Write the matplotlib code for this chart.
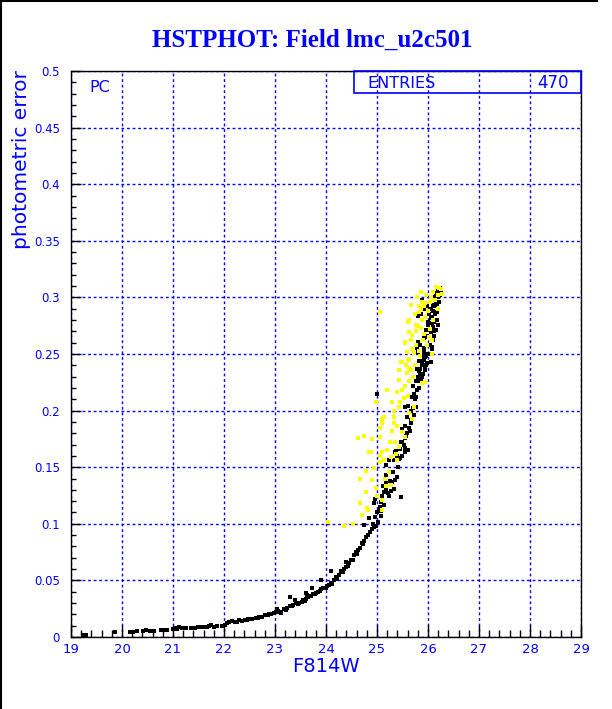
import matplotlib
matplotlib.use("Agg")
import matplotlib.pyplot as plt
from matplotlib.ticker import MultipleLocator, FixedLocator
from matplotlib.lines import Line2D
from matplotlib.patches import Rectangle

BLUE = (0, 0, 1)

title = "HSTPHOT: Field lmc_u2c501"
x_label = "F814W"
y_label = "photometric error"
x_ticks = [19, 20, 21, 22, 23, 24, 25, 26, 27, 28, 29]
y_ticks = [0, 0.05, 0.1, 0.15, 0.2, 0.25, 0.3, 0.35, 0.4, 0.45, 0.5]
y_tick_labels = ["0", "0.05", "0.1", "0.15", "0.2", "0.25", "0.3", "0.35", "0.4", "0.45", "0.5"]
stat_name = "ENTRIES"
stat_value = "470"
panel_label = "PC"

black_x = [19.25, 19.30, 19.86, 20.15, 20.22, 20.30, 20.42, 20.48, 20.55, 20.62, 20.76, 20.82, 20.88,
           21.00, 21.06, 21.12, 21.18, 21.25, 21.43, 21.50, 21.56, 21.62, 21.70, 21.74, 21.80, 21.97,
           22.02, 22.10, 22.15, 22.22, 22.30, 22.36, 22.42, 22.48, 22.55, 22.62, 22.68, 22.74, 22.80,
           22.86, 22.92, 22.98, 23.02, 23.03, 23.05, 23.10, 23.18, 23.24, 23.30, 23.36, 23.42, 23.48,
           23.52, 23.29, 23.55, 23.60, 23.65, 23.70, 23.75, 23.80, 23.85, 23.60, 23.72, 23.40, 23.62,
           23.91, 23.95, 24.00, 23.91, 24.05, 24.10, 24.15, 24.20, 24.09, 24.25, 24.30, 24.35, 24.40,
           24.40, 24.46, 24.50, 24.55, 24.58, 24.62, 24.66, 24.70, 24.74, 24.78, 24.75, 24.86, 24.90,
           24.94, 24.85, 24.97, 25.00, 25.04, 25.08, 24.95, 24.97, 25.05, 25.08, 25.10, 25.10, 25.14,
           25.17, 25.11, 25.18, 25.18, 25.18, 25.24, 25.28, 25.33, 25.30, 25.35, 25.40, 25.48, 25.34,
           25.44, 25.50, 25.54, 25.38, 25.45, 25.55, 25.60, 25.24,
           25.50, 25.55, 25.58, 25.50, 25.62, 25.67, 25.58, 25.54, 25.67, 25.70, 25.76, 25.00, 25.68,
           25.72, 25.78, 25.70, 25.82, 25.76, 25.80, 25.82, 25.78, 25.90, 25.95, 25.88, 25.82, 25.92,
           25.95, 25.97, 25.87, 25.80, 25.78, 25.93, 25.85, 25.80, 25.93, 25.98, 25.97, 26.06, 26.12,
           26.16, 26.00, 26.08, 26.12, 25.80, 25.86, 26.08, 26.14, 26.18, 25.99, 26.06, 26.10, 26.15,
           25.89, 26.16, 26.20, 26.24, 26.20, 26.12, 26.22,
           25.99, 26.03, 26.07, 25.90, 25.97, 26.00, 26.05, 25.94, 25.85, 25.89, 25.80, 25.77, 25.60,
           25.58, 25.54, 25.48, 25.40, 25.36, 26.10, 26.02, 25.93, 26.18, 26.22,
           26.14, 26.18, 26.20, 26.24, 26.26, 26.10, 26.13, 26.16, 26.19, 26.05, 26.09, 26.12, 26.03,
           26.07, 26.00, 25.96, 25.92, 25.88, 25.85, 25.83, 25.86, 25.74, 25.72, 25.66, 25.64, 25.57,
           25.52, 25.46, 25.42, 25.31, 25.26, 25.21, 25.14, 25.07, 25.02, 24.98, 24.92, 24.82, 24.72,
           24.60, 24.52, 24.44, 24.33, 24.22, 24.12, 24.02, 23.88, 23.78, 23.68, 23.58, 23.46, 23.34,
           23.22, 23.12, 22.88, 22.66, 22.46, 22.26, 22.06, 21.86, 21.66, 21.36, 21.08]
black_y = [0.002, 0.002, 0.004, 0.004, 0.004, 0.005, 0.005, 0.006, 0.005, 0.005, 0.006, 0.006, 0.006,
           0.007, 0.008, 0.009, 0.008, 0.008, 0.008, 0.009, 0.009, 0.009, 0.010, 0.011, 0.009, 0.010,
           0.011, 0.013, 0.014, 0.013, 0.015, 0.014, 0.015, 0.016, 0.016, 0.017, 0.018, 0.018, 0.019,
           0.019, 0.020, 0.021, 0.022, 0.025, 0.023, 0.022, 0.025, 0.026, 0.027, 0.028, 0.030, 0.030,
           0.031, 0.035, 0.033, 0.034, 0.035, 0.036, 0.038, 0.039, 0.040, 0.039, 0.043, 0.033, 0.037,
           0.042, 0.043, 0.043, 0.050, 0.046, 0.048, 0.050, 0.053, 0.058, 0.055, 0.058, 0.060, 0.062,
           0.066, 0.065, 0.068, 0.072, 0.075, 0.077, 0.079, 0.083, 0.085, 0.088, 0.099, 0.093, 0.095,
           0.097, 0.105, 0.106, 0.110, 0.112, 0.111, 0.118, 0.122, 0.115, 0.119, 0.121, 0.125, 0.128,
           0.130, 0.133, 0.136, 0.143, 0.152, 0.125, 0.129, 0.131, 0.137, 0.139, 0.141, 0.124, 0.156,
           0.157, 0.160, 0.163, 0.164, 0.166, 0.167, 0.165, 0.156,
           0.172, 0.176, 0.180, 0.184, 0.185, 0.189, 0.194, 0.203, 0.200, 0.202, 0.203, 0.215, 0.212,
           0.215, 0.218, 0.222, 0.220, 0.226, 0.230, 0.235, 0.237, 0.232, 0.236, 0.240, 0.244, 0.245,
           0.238, 0.248, 0.248, 0.252, 0.255, 0.255, 0.258, 0.261, 0.264, 0.266, 0.271, 0.269, 0.270,
           0.271, 0.276, 0.277, 0.278, 0.284, 0.285, 0.283, 0.285, 0.287, 0.292, 0.290, 0.293, 0.296,
           0.298, 0.304, 0.306, 0.308, 0.300, 0.300, 0.296,
           0.242, 0.250, 0.256, 0.262, 0.265, 0.278, 0.243, 0.247, 0.237, 0.230, 0.226, 0.212, 0.204,
           0.194, 0.186, 0.172, 0.160, 0.163, 0.262, 0.285, 0.290, 0.280, 0.302,
           0.298, 0.294, 0.303, 0.302, 0.306, 0.288, 0.292, 0.280, 0.276, 0.282, 0.274, 0.266, 0.258,
           0.254, 0.250, 0.240, 0.252, 0.244, 0.232, 0.220, 0.228, 0.210, 0.196, 0.192, 0.182, 0.178,
           0.170, 0.158, 0.150, 0.146, 0.138, 0.127, 0.117, 0.107, 0.102, 0.098, 0.100, 0.090, 0.082,
           0.073, 0.068, 0.063, 0.057, 0.051, 0.047, 0.045, 0.041, 0.038, 0.036, 0.032, 0.029, 0.027,
           0.024, 0.021, 0.020, 0.017, 0.015, 0.013, 0.012, 0.010, 0.009, 0.008, 0.007]

yellow_x = [24.03, 24.36, 24.52, 24.66, 24.81, 24.83, 25.09, 24.66, 24.79, 24.91, 25.00, 25.10, 25.18,
            25.28, 24.79, 24.95, 25.05, 25.14, 25.40, 24.85, 25.10, 25.20, 25.28, 25.38, 25.44, 24.89,
            24.62, 24.75, 25.05, 25.54, 25.09, 25.30, 25.40, 25.50, 25.34, 25.09, 25.14, 25.34, 25.69,
            25.34, 25.44, 25.73, 24.99, 25.20, 25.40, 25.50, 25.54, 25.63, 25.44, 25.58, 25.67, 25.44,
            25.50, 25.48, 25.60, 25.57, 25.63, 25.62, 25.54, 25.69, 25.73, 25.83, 25.84, 25.77, 25.54,
            25.63, 25.69, 25.77, 25.80, 25.77, 25.87, 25.60, 25.63, 25.89, 25.95, 25.82, 25.67, 25.83,
            25.05, 25.87, 25.97, 26.10, 26.16, 26.25, 26.05, 26.20, 26.10, 26.00, 25.95, 26.02, 26.08,
            25.90, 25.98, 26.07, 25.88, 25.70, 25.74, 25.95, 25.52, 25.30, 25.60, 24.90, 25.25, 25.62,
            26.22, 26.20, 25.89, 25.87, 25.05, 25.09, 25.20, 25.05, 26.14, 26.28, 26.03, 25.92,
            25.58, 25.66, 25.74, 25.46, 25.36, 25.24, 25.15, 24.98, 24.70, 25.78, 25.92, 26.04]
yellow_y = [0.102, 0.098, 0.100, 0.118, 0.114, 0.112, 0.112, 0.140, 0.128, 0.139, 0.125, 0.121, 0.133,
            0.134, 0.147, 0.149, 0.155, 0.156, 0.156, 0.163, 0.163, 0.165, 0.159, 0.162, 0.168, 0.163,
            0.176, 0.178, 0.177, 0.177, 0.189, 0.182, 0.186, 0.181, 0.189, 0.193, 0.194, 0.194, 0.193,
            0.200, 0.203, 0.203, 0.208, 0.218, 0.216, 0.218, 0.222, 0.226, 0.227, 0.233, 0.236, 0.236,
            0.243, 0.243, 0.245, 0.240, 0.238, 0.246, 0.260, 0.254, 0.251, 0.253, 0.248, 0.258, 0.261,
            0.269, 0.267, 0.270, 0.275, 0.276, 0.273, 0.278, 0.280, 0.280, 0.283, 0.287, 0.293, 0.292,
            0.287, 0.305, 0.302, 0.305, 0.309, 0.307, 0.300, 0.290, 0.280, 0.288, 0.295, 0.265, 0.262,
            0.262, 0.258, 0.250, 0.224, 0.230, 0.240, 0.225, 0.211, 0.208, 0.213, 0.175, 0.172, 0.198,
            0.308, 0.302, 0.296, 0.290, 0.185, 0.190, 0.218, 0.160, 0.298, 0.303, 0.272, 0.268,
            0.252, 0.262, 0.285, 0.208, 0.172, 0.146, 0.140, 0.132, 0.108, 0.300, 0.292, 0.296]

W, H = 612, 709
fig = plt.figure(figsize=(W / 100, H / 100), dpi=100)
fig.patch.set_facecolor("white")
ax = fig.add_axes([71 / W, 1 - 637 / H, (581 - 71) / W, (637 - 71) / H])

ax.scatter(black_x, black_y, marker="s", s=6, c="black", linewidths=0, zorder=3)
ax.scatter(yellow_x, yellow_y, marker="s", s=6, c=(1, 1, 0), linewidths=0, zorder=3)

ax.set_xlim(19, 29)
ax.set_ylim(0, 0.5)
ax.xaxis.set_major_locator(FixedLocator(x_ticks))
ax.xaxis.set_minor_locator(MultipleLocator(0.2))
ax.yaxis.set_major_locator(FixedLocator(y_ticks))
ax.yaxis.set_minor_locator(MultipleLocator(0.01))
ax.set_xticklabels([str(t) for t in x_ticks])
ax.set_yticklabels(y_tick_labels)

ax.grid(True, which="major", color=BLUE, linestyle=(0, (2, 2)), linewidth=1.0, zorder=1)
ax.set_axisbelow(True)
for s in ax.spines.values():
    s.set_color("black")
    s.set_linewidth(1.0)

ax.tick_params(axis="x", which="major", direction="in", length=9, width=1, color="black",
               labelcolor=BLUE, labelsize=9.5, pad=4)
ax.tick_params(axis="x", which="minor", direction="in", length=5, width=1, color="black")
ax.tick_params(axis="y", which="major", direction="in", length=7, width=1, color="black",
               labelcolor=BLUE, labelsize=8.5, pad=8)
ax.tick_params(axis="y", which="minor", direction="in", length=3.5, width=1, color="black")
ax.tick_params(top=False, right=False, which="both")

# title and axis labels
fig.text(312 / W, 1 - 40 / H, title, ha="center", va="center", color=BLUE,
         fontsize=18, fontweight="bold", family="Liberation Serif")
fig.text(22 / W, 1 - 70 / H, y_label, rotation=90, ha="center", va="top", color=BLUE,
         fontsize=14.5, family="DejaVu Sans")
fig.text(360 / W, 1 - 667 / H, x_label, ha="right", va="center", color=BLUE,
         fontsize=14, family="DejaVu Sans")

# panel label
fig.text(89 / W, 1 - 88 / H, panel_label, ha="left", va="center", color=BLUE, fontsize=11.5)

# stats box
fig.patches.append(Rectangle((354 / W, 1 - 93 / H), (581 - 354) / W, (93 - 71) / H,
                             transform=fig.transFigure, fill=False, edgecolor=BLUE, linewidth=1.2))
fig.text(367 / W, 1 - 83 / H, stat_name, ha="left", va="center", color=BLUE, fontsize=11.5)
fig.text(569 / W, 1 - 83 / H, stat_value, ha="right", va="center", color=BLUE, fontsize=12)

# window border lines
fig.add_artist(Line2D([0.5 / W, 0.5 / W], [0, 1], transform=fig.transFigure, color="black", linewidth=1.5))
fig.add_artist(Line2D([0, 597 / W], [1 - 0.5 / H, 1 - 0.5 / H], transform=fig.transFigure,
                      color="black", linewidth=1.5))

fig.savefig("out.png", dpi=100)
